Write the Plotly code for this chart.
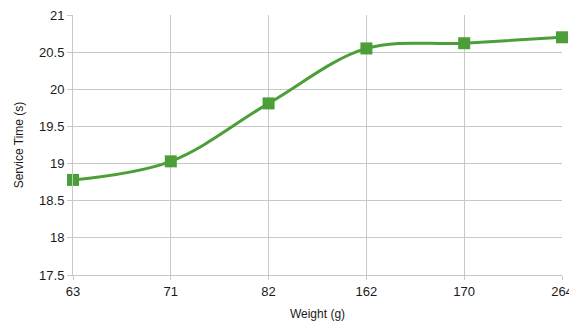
import plotly.graph_objects as go

categories = ["63", "71", "82", "162", "170", "264"]
service_time = [18.78, 19.03, 19.81, 20.55, 20.62, 20.70]
y_ticks = [17.5, 18, 18.5, 19, 19.5, 20, 20.5, 21]

fig = go.Figure()
fig.add_trace(go.Scatter(
    x=list(range(len(categories))), y=service_time,
    mode="lines+markers",
    line=dict(color="#4c9f38", width=3, shape="spline", smoothing=1),
    marker=dict(symbol="square", size=12, color="#4c9f38"),
    cliponaxis=False,
))
fig.update_layout(
    width=569, height=323,
    margin=dict(l=73, r=7, t=15, b=48),
    paper_bgcolor="white", plot_bgcolor="white",
    showlegend=False,
    font=dict(family="Liberation Sans, Arial, sans-serif", color="#1a1a1a"),
)
fig.update_xaxes(
    range=[0, len(categories) - 1],
    tickmode="array", tickvals=list(range(len(categories))), ticktext=categories,
    showgrid=True, gridcolor="#c8c8c8", gridwidth=1,
    showline=True, linecolor="#c8c8c8",
    ticks="outside", ticklen=4, tickcolor="#c8c8c8",
    tickfont=dict(size=13),
    ticklabeloverflow="allow",
    automargin=False,
    title=dict(text="Weight (g)", font=dict(size=12), standoff=12),
    zeroline=False,
)
fig.update_yaxes(
    range=[17.5, 21],
    tickmode="array", tickvals=y_ticks, ticktext=[f"{v:g}" for v in y_ticks],
    showgrid=True, gridcolor="#c8c8c8", gridwidth=1,
    showline=True, linecolor="#c8c8c8",
    ticks="outside", ticklen=5, tickcolor="#c8c8c8",
    tickfont=dict(size=13),
    automargin=False,
    title=dict(text="Service Time (s)", font=dict(size=12), standoff=12),
    zeroline=False,
)
fig.write_html("out.html")
